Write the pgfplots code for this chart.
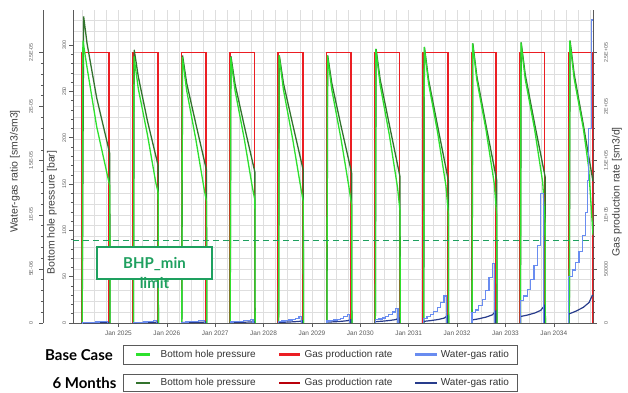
\documentclass[border=0pt]{standalone}
\usepackage{pgfplots}
\pgfplotsset{compat=1.18}
\usepackage{pgfplotstable}
\usepackage{fontspec}
\setmainfont{Liberation Sans}
\newfontfamily\latofont{Lato}

\definecolor{lgreen}{RGB}{45,225,45}
\definecolor{dgreen}{RGB}{50,115,45}
\definecolor{bred}{RGB}{235,30,35}
\definecolor{dred}{RGB}{185,0,10}
\definecolor{lblue}{RGB}{105,140,240}
\definecolor{dblue}{RGB}{40,60,140}
\definecolor{annog}{RGB}{30,160,95}
\definecolor{axisgray}{RGB}{90,90,90}
\definecolor{gridgray}{RGB}{222,222,222}

% gas production rate [1000 sm3/d]
\pgfplotstableread{
x y
2024.24 0
2024.24 250
2024.81 250
2024.81 0
nan nan
2025.30 0
2025.30 250
2025.81 250
2025.81 0
nan nan
2026.30 0
2026.30 250
2026.81 250
2026.81 0
nan nan
2027.30 0
2027.30 250
2027.81 250
2027.81 0
nan nan
2028.30 0
2028.30 250
2028.81 250
2028.81 0
nan nan
2029.30 0
2029.30 250
2029.81 250
2029.81 0
nan nan
2030.30 0
2030.30 250
2030.81 250
2030.81 0
nan nan
2031.30 0
2031.30 250
2031.81 250
2031.81 0
nan nan
2032.30 0
2032.30 250
2032.81 250
2032.81 0
nan nan
2033.30 0
2033.30 250
2033.81 250
2033.81 0
nan nan
2034.31 0
2034.31 250
2034.81 250
2034.81 0
}\gastab

% BHP 6 months [bar]
\pgfplotstableread{
x y
2024.25 0
2024.28 331
2024.35 302
2024.55 243
2024.82 183
2024.825 0
nan nan
2025.31 0
2025.325 295
2025.41 266
2025.60 218
2025.82 170
2025.825 0
nan nan
2026.31 0
2026.325 289
2026.41 259
2026.60 215
2026.82 165
2026.825 0
nan nan
2027.31 0
2027.325 288
2027.41 258
2027.60 213
2027.82 163
2027.825 0
nan nan
2028.31 0
2028.325 289
2028.41 259
2028.60 215
2028.82 165
2028.825 0
nan nan
2029.31 0
2029.325 289
2029.41 259
2029.60 213
2029.82 162
2029.825 0
nan nan
2030.31 0
2030.325 296
2030.41 263
2030.60 214
2030.82 158
2030.825 0
nan nan
2031.31 0
2031.325 298
2031.41 263
2031.60 212
2031.82 154
2031.825 0
nan nan
2032.31 0
2032.325 302
2032.41 266
2032.60 213
2032.82 154
2032.825 0
nan nan
2033.31 0
2033.325 303
2033.41 268
2033.60 216
2033.82 158
2033.825 0
nan nan
2034.32 0
2034.335 305
2034.42 269
2034.61 214
2034.81 153
}\bhpsix

% BHP base case [bar]
\pgfplotstableread{
x y
2024.25 0
2024.265 305
2024.35 276
2024.55 212
2024.82 148
2024.825 0
nan nan
2025.31 0
2025.32 288
2025.41 253
2025.60 203
2025.77 152
2025.82 141
2025.825 0
nan nan
2026.31 0
2026.32 287
2026.41 251
2026.60 198
2026.77 145
2026.82 131
2026.825 0
nan nan
2027.31 0
2027.32 287
2027.41 251
2027.60 199
2027.77 146
2027.82 133
2027.825 0
nan nan
2028.31 0
2028.32 289
2028.41 252
2028.60 199
2028.77 146
2028.82 131
2028.825 0
nan nan
2029.31 0
2029.32 289
2029.41 252
2029.60 199
2029.77 145
2029.82 127
2029.825 0
nan nan
2030.31 0
2030.32 296
2030.41 257
2030.60 203
2030.77 146
2030.82 121
2030.825 0
nan nan
2031.31 0
2031.32 298
2031.41 259
2031.60 205
2031.77 148
2031.82 118
2031.825 0
nan nan
2032.31 0
2032.32 302
2032.41 262
2032.60 208
2032.77 150
2032.82 116
2032.825 0
nan nan
2033.31 0
2033.32 303
2033.41 263
2033.60 210
2033.77 152
2033.82 108
2033.825 0
nan nan
2034.32 0
2034.33 305
2034.42 264
2034.61 210
2034.72 168
2034.81 95
}\bhpbase

% WGR base case [1e-6 sm3/sm3]
\pgfplotstableread{
x y
2024.25 0
2024.25 0.04
2024.32 0.05
2024.39 0.06
2024.46 0.08
2024.53 0.10
2024.60 0.12
2024.67 0.15
2024.78 0.15
2024.78 0
nan nan
2025.31 0
2025.31 0.06
2025.38 0.07
2025.45 0.08
2025.52 0.10
2025.59 0.12
2025.66 0.15
2025.73 0.20
2025.78 0.20
2025.78 0
nan nan
2026.31 0
2026.31 0.08
2026.38 0.09
2026.45 0.11
2026.52 0.13
2026.59 0.16
2026.66 0.20
2026.73 0.25
2026.78 0.25
2026.78 0
nan nan
2027.31 0
2027.31 0.10
2027.38 0.12
2027.45 0.14
2027.52 0.17
2027.59 0.21
2027.66 0.26
2027.73 0.33
2027.78 0.33
2027.78 0
nan nan
2028.31 0
2028.31 0.15
2028.38 0.18
2028.45 0.22
2028.52 0.27
2028.59 0.34
2028.66 0.45
2028.73 0.60
2028.78 0.60
2028.78 0
nan nan
2029.31 0
2029.31 0.18
2029.38 0.22
2029.45 0.27
2029.52 0.35
2029.59 0.45
2029.66 0.58
2029.73 0.75
2029.78 0.75
2029.78 0
nan nan
2030.31 0
2030.31 0.30
2030.38 0.37
2030.45 0.46
2030.52 0.60
2030.59 0.78
2030.66 1.02
2030.73 1.36
2030.78 1.36
2030.78 0
nan nan
2031.31 0
2031.31 0.45
2031.38 0.60
2031.45 0.80
2031.52 1.05
2031.59 1.40
2031.66 1.90
2031.73 2.50
2031.78 2.50
2031.78 0
nan nan
2032.31 0
2032.31 1.0
2032.38 1.2
2032.45 1.6
2032.52 2.2
2032.59 3.0
2032.66 4.2
2032.73 5.5
2032.78 5.5
2032.78 0
nan nan
2033.31 0
2033.31 2.1
2033.38 2.5
2033.45 3.1
2033.52 4.0
2033.59 5.3
2033.66 7.2
2033.73 12.0
2033.78 12.0
2033.78 0
nan nan
2034.31 0
2034.31 4.3
2034.38 4.9
2034.45 5.6
2034.52 6.6
2034.59 8.1
2034.655 10.2
2034.70 13.2
2034.725 18.0
2034.78 28.0
2034.81 28.0
}\wgrbase

% WGR 6 months [1e-6 sm3/sm3]
\pgfplotstableread{
x y
2024.25 0
2024.25 0.02
2024.40 0.025
2024.55 0.03
2024.67 0.04
2024.80 0.05
2024.80 0
nan nan
2025.31 0
2025.31 0.03
2025.46 0.036
2025.61 0.044
2025.73 0.054
2025.80 0.07
2025.80 0
nan nan
2026.31 0
2026.31 0.04
2026.46 0.048
2026.61 0.058
2026.73 0.07
2026.80 0.09
2026.80 0
nan nan
2027.31 0
2027.31 0.05
2027.46 0.06
2027.61 0.075
2027.73 0.092
2027.80 0.12
2027.80 0
nan nan
2028.31 0
2028.31 0.06
2028.46 0.08
2028.61 0.11
2028.73 0.145
2028.80 0.20
2028.80 0
nan nan
2029.31 0
2029.31 0.08
2029.46 0.113
2029.61 0.157
2029.73 0.212
2029.80 0.30
2029.80 0
nan nan
2030.31 0
2030.31 0.12
2030.46 0.17
2030.61 0.235
2030.73 0.318
2030.80 0.45
2030.80 0
nan nan
2031.31 0
2031.31 0.15
2031.46 0.225
2031.61 0.325
2031.73 0.45
2031.80 0.65
2031.80 0
nan nan
2032.31 0
2032.31 0.28
2032.46 0.40
2032.61 0.56
2032.73 0.76
2032.80 1.10
2032.80 0
nan nan
2033.31 0
2033.31 0.60
2033.46 0.74
2033.61 0.93
2033.73 1.17
2033.80 1.57
2033.80 0
nan nan
2034.31 0
2034.31 0.83
2034.46 1.10
2034.61 1.45
2034.73 1.90
2034.80 2.60
}\wgrsix

\pgfplotsset{
  base/.style={width=520pt, height=313pt, scale only axis,
    xmin=2024.06, xmax=2034.81, unbounded coords=jump,
    /pgf/number format/assume math mode=true},
  axstyle/.style={axis line style={axisgray, line width=0.8pt, -},
    tick style={axisgray, line width=0.6pt}, tick align=outside,
    major tick length=4pt, minor tick length=2.2pt},
  ylabs/.style={yticklabel style={xshift=#1, rotate=90, anchor=center,
      font=\fontsize{5.3}{6}\selectfont, text=axisgray}},
}

\begin{document}
\begin{tikzpicture}
\useasboundingbox (-73pt,-69pt) rectangle (555pt,323pt);

% grid
\begin{axis}[base, ymin=0, ymax=289.3,
  xtick distance=0.25, ytick distance=10,
  xticklabels={}, yticklabels={},
  axis line style={draw=none}, tick style={draw=none},
  grid=major, major grid style={gridgray, line width=0.6pt}]
\end{axis}

% gas production rate axis (right) and x axis
\begin{axis}[base, axstyle, ymin=0, ymax=289.3,
  axis x line*=bottom, axis y line*=right,
  xtick={2025,2026,2027,2028,2029,2030,2031,2032,2033,2034},
  xticklabels={Jan 2025,Jan 2026,Jan 2027,Jan 2028,Jan 2029,Jan 2030,Jan 2031,Jan 2032,Jan 2033,Jan 2034},
  xticklabel style={font=\fontsize{6.5}{7}\selectfont, text=axisgray},
  ytick={0,50,100,150,200,250},
  yticklabels={0,50000,1E+05,1.5E+05,2E+05,2.5E+05},
  minor y tick num=4, ylabs=9pt]
\addplot[dred, line width=1.7pt] table[x=x,y=y] {\gastab};
\addplot[bred, line width=1.7pt] table[x=x,y=y] {\gastab};
\end{axis}

% BHP axis (left)
\begin{axis}[base, axstyle, ymin=0, ymax=338,
  axis y line*=left, axis x line=none,
  ytick={0,50,100,150,200,250,300}, minor y tick num=4,
  ylabs=-4.7pt]
\addplot[dgreen, line width=1.3pt] table[x=x,y=y] {\bhpsix};
\addplot[lgreen, line width=1.3pt] table[x=x,y=y] {\bhpbase};
\addplot[annog, line width=1.3pt, dash pattern=on 6pt off 4pt] coordinates {(2024.06,89) (2034.81,89)};
\end{axis}

% WGR data
\begin{axis}[base, ymin=0, ymax=28.93, hide axis]
\addplot[dblue, line width=1.2pt] table[x=x,y=y] {\wgrsix};
\addplot[lblue, line width=1.2pt, const plot] table[x=x,y=y] {\wgrbase};
\end{axis}

% WGR axis (outer left)
\begin{axis}[axstyle, at={(-30pt,0pt)}, anchor=south west, width=1pt, height=313pt, scale only axis,
  xmin=0, xmax=1, ymin=0, ymax=28.93,
  axis y line*=left, axis x line=none,
  ytick={0,5,10,15,20,25},
  yticklabels={0,5E-06,1E-05,1.5E-05,2E-05,2.5E-05},
  minor y tick num=4, ylabs=-8pt]
\end{axis}

% axis titles
\node[rotate=90, font=\fontsize{10.5}{12}\selectfont, text=black!75] at (-58pt,151.5pt) {Water-gas ratio [sm3/sm3]};
\node[rotate=90, font=\fontsize{10.5}{12}\selectfont, text=black!75] at (-21pt,110.5pt) {Bottom hole pressure [bar]};
\node[rotate=90, font=\fontsize{10.5}{12}\selectfont, text=black!75] at (544pt,131pt) {Gas production rate [sm3/d]};

% BHP_min annotation
\node[draw=annog, line width=1.3pt, fill=white, minimum width=115pt, minimum height=32pt, inner sep=0pt] at (81.5pt,60pt) {};
\node[font=\latofont\bfseries\fontsize{15}{16}\selectfont, text=annog] at (81.5pt,59pt) {BHP\_min};
\node[font=\latofont\bfseries\fontsize{15}{16}\selectfont, text=annog] at (81.5pt,40pt) {limit};

% legends
\begin{scope}[every node/.style={font=\fontsize{10}{12}\selectfont, text=black!80, anchor=west, inner sep=0pt}]
\draw[axisgray, line width=0.7pt] (50pt,-22.7pt) rectangle (444pt,-41.3pt);
\draw[lgreen, line width=2.2pt] (63pt,-31.5pt) -- (77pt,-31.5pt);
\node at (87.5pt,-31.8pt) {Bottom hole pressure};
\draw[bred, line width=2.2pt] (206.4pt,-31.5pt) -- (227.4pt,-31.5pt);
\node at (231.4pt,-31.8pt) {Gas production rate};
\draw[lblue, line width=2.2pt] (342pt,-31.5pt) -- (363.7pt,-31.5pt);
\node at (367.7pt,-31.8pt) {Water-gas ratio};

\draw[axisgray, line width=0.7pt] (50pt,-51pt) rectangle (444pt,-68.4pt);
\draw[dgreen, line width=2.2pt] (63pt,-60.3pt) -- (77pt,-60.3pt);
\node at (87.5pt,-60.3pt) {Bottom hole pressure};
\draw[dred, line width=2.2pt] (206.4pt,-60.3pt) -- (227.4pt,-60.3pt);
\node at (231.4pt,-60.3pt) {Gas production rate};
\draw[dblue, line width=2.2pt] (342pt,-60.3pt) -- (363.7pt,-60.3pt);
\node at (367.7pt,-60.3pt) {Water-gas ratio};
\end{scope}

% case labels
\node[font=\latofont\bfseries\fontsize{15}{16}\selectfont] at (6pt,-32.5pt) {Base Case};
\node[font=\latofont\bfseries\fontsize{15}{16}\selectfont] at (11.5pt,-60pt) {6 Months};
\end{tikzpicture}
\end{document}
